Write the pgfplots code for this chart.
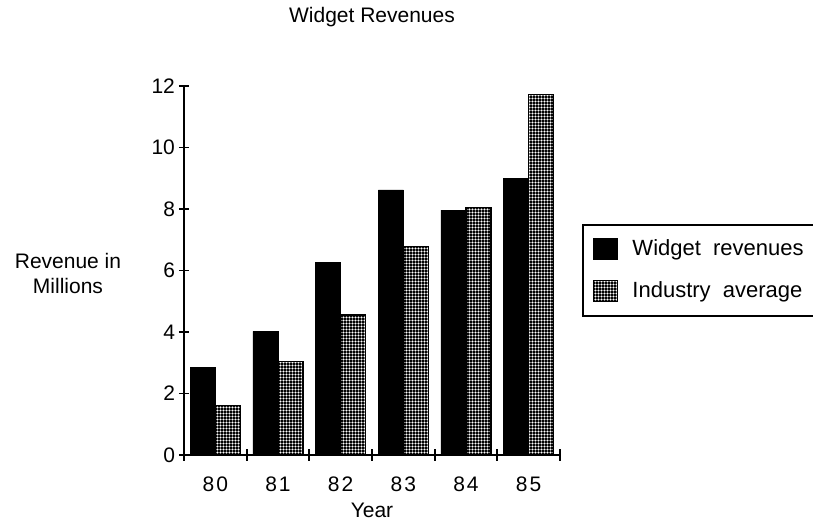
\documentclass[border=0pt]{standalone}
\usepackage{pgfplots}
\pgfplotsset{compat=1.18}
\usepackage{pgfplotstable}
\usepackage{fontspec}
\setmainfont{Liberation Sans}
\usetikzlibrary{patterns.meta}

\tikzdeclarepattern{
  name=smalldots, type=uncolored,
  bottom left={(-0.1pt,-0.1pt)}, top right={(1.6pt,1.6pt)},
  tile size={(1.5pt,1.5pt)},
  code={\fill (0.75pt,0.75pt) circle (0.52pt);}
}

\pgfplotstableread{
x year widget industry
0 80 2.85 1.60
1 81 4.02 3.05
2 82 6.25 4.55
3 83 8.62 6.78
4 84 7.96 8.05
5 85 9.00 11.72
}\revenues

\begin{document}
\begin{tikzpicture}[font=\fontsize{10.5}{12.5}\selectfont]
\path[use as bounding box] (-92pt,-34pt) rectangle (314.5pt,227.5pt);
\begin{axis}[
  at={(0,0)}, anchor=south west,
  scale only axis, width=188pt, height=184.5pt,
  ybar, bar width=0.4,
  xmin=-0.5, xmax=5.5, ymin=0, ymax=12,
  axis x line*=bottom, axis y line*=left,
  axis line style={line width=1pt},
  xtick={0,...,5},
  xticklabels={8\kern1pt 0,8\kern1pt 1,8\kern1pt 2,8\kern1pt 3,8\kern1pt 4,8\kern1pt 5},
  major x tick style={draw=none},
  minor xtick={-0.5,0.5,...,5.5},
  ytick={0,2,...,12},
  tick align=center,
  major tick length=5pt, minor tick length=6pt,
  tick style={line width=0.9pt, black},
  /pgf/number format/assume math mode=true,
  xticklabel style={yshift=-5pt},
  yticklabel style={xshift=1.5pt},
  title={Widget Revenues},
  every axis title shift=0pt,
  title style={at={(axis description cs:0.5,1.186)}, anchor=center},
  xlabel={Year},
  xlabel style={at={(axis description cs:0.5,-0.149)}, anchor=center},
  ylabel={Revenue in\\Millions},
  ylabel style={at={(axis description cs:-0.3085,0.493)}, rotate=-90, anchor=center, align=center},
  legend style={at={(axis description cs:1.0585,0.626)}, anchor=north west,
    draw=black, line width=1pt, inner xsep=5pt, inner ysep=5.5pt, row sep=7.5pt,
    font=\fontsize{11}{13}\selectfont},
  legend cell align=left,
  legend image code/.code={%
    \draw[#1, line width=0.5pt] (0pt,-5.25pt) rectangle (12pt,5.25pt);
    \path (17pt,0pt);},
]
\addplot[draw=black, fill=black, bar shift=-0.2] table[x=x, y=widget] {\revenues};
\addplot[draw=black, line width=0.6pt, fill=black, bar shift=0.2,
  postaction={pattern=smalldots, pattern color=white}] table[x=x, y=industry] {\revenues};
\legend{Widget\ \ revenues\hphantom{MMM}, Industry\ \ average\hphantom{MMM}}
\end{axis}
\end{tikzpicture}
\end{document}
